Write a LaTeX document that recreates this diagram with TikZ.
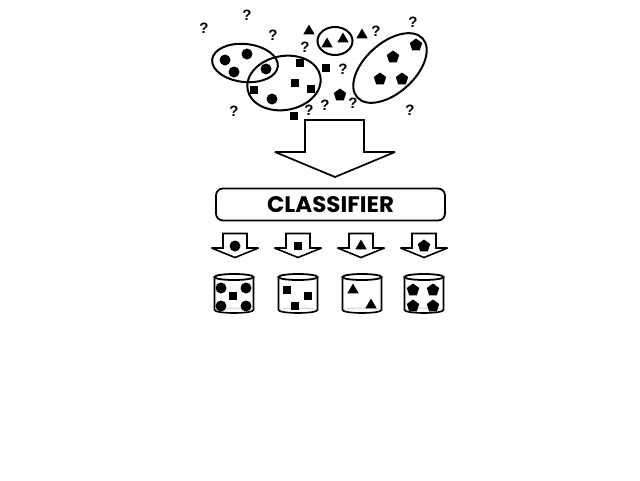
\documentclass[tikz,border=0pt]{standalone}
\usepackage{fontspec}
\setmainfont{Liberation Sans}
\newfontfamily\popfont{Poppins}
\usetikzlibrary{shapes.geometric}
\begin{document}
\begin{tikzpicture}[x=1pt,y=-1pt,
  cshape/.style={circle,fill=black,inner sep=0pt,minimum size=11pt},
  sshape/.style={rectangle,fill=black,inner sep=0pt,minimum size=8.5pt},
  tshape/.style={regular polygon,regular polygon sides=3,fill=black,inner sep=0pt,minimum size=13pt},
  pshape/.style={regular polygon,regular polygon sides=5,fill=black,inner sep=0pt,minimum size=13pt},
  qm/.style={font=\fontsize{15}{15}\selectfont\bfseries,inner sep=0pt},
  grp/.style={draw,line width=2pt},
  blockarrow/.style={draw,line width=1.7pt,fill=white,line join=miter,miter limit=4},
  cyl/.style={draw,line width=1.6pt},
  clsbox/.style={draw,line width=1.8pt,rounded corners=7pt,minimum width=229pt,minimum height=32pt,inner sep=0pt}
]
\useasboundingbox (0,0) rectangle (640,480);
\fill[white] (0,0) rectangle (640,480);

% groups (ellipses)
\draw[grp,rotate around={-6:(245,63)}] (245,63) ellipse[x radius=33pt,y radius=19pt];
\draw[grp,rotate around={10:(284,83)}] (284,83) ellipse[x radius=37pt,y radius=27pt];
\draw[grp] (335,41) ellipse[x radius=17.5pt,y radius=14pt];
\draw[grp,rotate around={42:(390,68)}] (390,68) ellipse[x radius=44pt,y radius=25pt];

% question marks
\foreach \x/\y [count=\i] in {204/28,247/15,273/35,305/47,376/31,413/22,343/69,325/105,353/103,309/110,234/111,410/110}
  \node[qm] (q\i) at (\x,\y) {?};

% scattered items
\foreach \x/\y [count=\i] in {225/60,247/54,234/72,266/69,272/99}
  \node[cshape] (tc\i) at (\x,\y) {};
\foreach \x/\y [count=\i] in {300/63,295/83,311/89,254/90,326/68,294/116}
  \node[sshape] (ts\i) at (\x,\y) {};
\foreach \x/\y [count=\i] in {309/31,327/44,343/39,362/35}
  \node[tshape] (tt\i) at (\x,\y) {};
\foreach \x/\y [count=\i] in {340/95,416/45,393/57,380/79,402/79}
  \node[pshape] (tp\i) at (\x,\y) {};

% big arrow
\draw[blockarrow] (305,120) -- (364,120) -- (364,152) -- (395,152) -- (335,177) -- (275,152) -- (305,152) -- cycle;

% classifier
\node[clsbox] (cls) at (330.5,204.5) {\resizebox{127pt}{16pt}{\popfont\bfseries CLASSIFIER}};

% small arrows
\foreach \c [count=\i] in {235,298,361,424}
  \draw[blockarrow,line width=1.6pt] (\c-12,233.5) -- (\c+12,233.5) -- (\c+12,248) -- (\c+23.5,248) -- (\c,257.5) -- (\c-23.5,248) -- (\c-12,248) -- cycle;
\node[cshape] (a1) at (235,246) {};
\node[sshape] (a2) at (298,246) {};
\node[tshape] (a3) at (361,246) {};
\node[pshape] (a4) at (424,246) {};

% cylinders
\foreach \c in {234,298,362,424} {
  \draw[gray!35,line width=1pt] (\c-18.5,310.5) arc[start angle=180,end angle=0,x radius=18.5pt,y radius=2.5pt];
  \draw[cyl] (\c-19.5,277) -- (\c-19.5,310) arc[start angle=180,end angle=360,x radius=19.5pt,y radius=3pt] -- (\c+19.5,277);
  \draw[cyl,line width=1.8pt] (\c,277) ellipse[x radius=19.5pt,y radius=3pt];
}
\foreach \x/\y [count=\i] in {221/288,246/288,221/306,246/306}
  \node[cshape] (k1c\i) at (\x,\y) {};
\node[sshape] (k1s) at (233,296) {};
\foreach \x/\y [count=\i] in {287/290,308/296,295/306}
  \node[sshape] (k2s\i) at (\x,\y) {};
\foreach \x/\y [count=\i] in {353/290,371/305}
  \node[tshape] (k3t\i) at (\x,\y) {};
\foreach \x/\y [count=\i] in {413/290,433/290,413/306,433/306}
  \node[pshape] (k4p\i) at (\x,\y) {};
\end{tikzpicture}
\end{document}
